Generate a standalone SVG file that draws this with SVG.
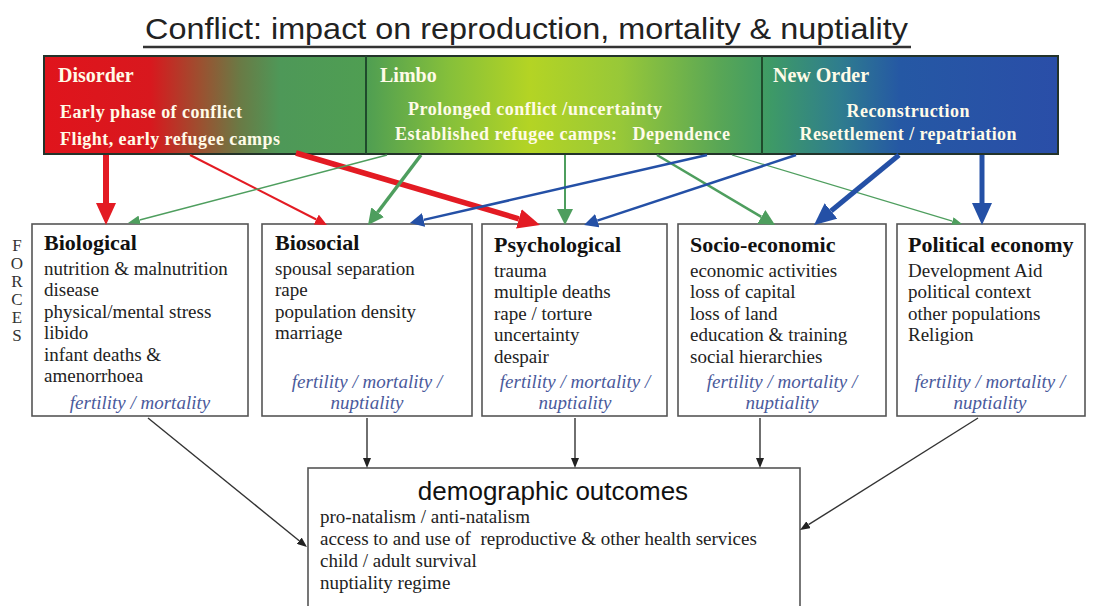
<svg xmlns="http://www.w3.org/2000/svg" width="1095" height="606" viewBox="0 0 1095 606">
<style>
.ttl{font-family:"Liberation Sans",Arial,sans-serif;font-size:30px;fill:#222}
.bh{font-family:"Liberation Serif","Times New Roman",serif;font-weight:bold;font-size:20px;fill:#fffbe8}
.bt{font-family:"Liberation Serif","Times New Roman",serif;font-weight:bold;font-size:18px;fill:#fffbe8}
.box{fill:#fff;stroke:#555;stroke-width:1.6}
.hd{font-family:"Liberation Serif","Times New Roman",serif;font-weight:bold;font-size:22px;fill:#111}
.tx{font-family:"Liberation Serif","Times New Roman",serif;font-size:19px;fill:#222}
.it{font-family:"Liberation Serif","Times New Roman",serif;font-style:italic;font-size:19px;fill:#4a5a9c;text-anchor:middle}
.fc{font-family:"Liberation Serif","Times New Roman",serif;font-size:17px;fill:#333;text-anchor:middle}
.dh{font-family:"Liberation Sans",Arial,sans-serif;font-size:26px;fill:#111;text-anchor:middle}
.red{stroke:#e31b23;fill:none}
.grn{stroke:#4e9e5e;fill:none}
.blu{stroke:#2450a6;fill:none}
.blk{stroke:#333;fill:none;stroke-width:1.4}
</style>
<defs>
<linearGradient id="bg" gradientUnits="userSpaceOnUse" x1="44" y1="0" x2="1058" y2="0">
<stop offset="0" stop-color="#e0141c"/>
<stop offset="0.105" stop-color="#d8181e"/>
<stop offset="0.154" stop-color="#9c5030"/>
<stop offset="0.193" stop-color="#6a7a45"/>
<stop offset="0.233" stop-color="#4e9858"/>
<stop offset="0.318" stop-color="#4f9e52"/>
<stop offset="0.40" stop-color="#86c03a"/>
<stop offset="0.479" stop-color="#b4d424"/>
<stop offset="0.568" stop-color="#98c838"/>
<stop offset="0.667" stop-color="#58a656"/>
<stop offset="0.716" stop-color="#3e9a66"/>
<stop offset="0.785" stop-color="#2f7d8e"/>
<stop offset="0.844" stop-color="#2558a4"/>
<stop offset="1" stop-color="#2a4ea8"/>
</linearGradient>
<marker id="rB" viewBox="0 0 10 10" refX="0" refY="5" markerUnits="userSpaceOnUse" markerWidth="22" markerHeight="20" orient="auto" preserveAspectRatio="none"><path d="M0,0 L10,5 L0,10 z" fill="#e31b23"/></marker>
<marker id="rS" viewBox="0 0 10 10" refX="0" refY="5" markerUnits="userSpaceOnUse" markerWidth="12" markerHeight="11" orient="auto" preserveAspectRatio="none"><path d="M0,0 L10,5 L0,10 z" fill="#e31b23"/></marker>
<marker id="gS" viewBox="0 0 10 10" refX="0" refY="5" markerUnits="userSpaceOnUse" markerWidth="12" markerHeight="9" orient="auto" preserveAspectRatio="none"><path d="M0,0 L10,5 L0,10 z" fill="#4e9e5e"/></marker>
<marker id="gM" viewBox="0 0 10 10" refX="0" refY="5" markerUnits="userSpaceOnUse" markerWidth="16" markerHeight="16" orient="auto" preserveAspectRatio="none"><path d="M0,0 L10,5 L0,10 z" fill="#4e9e5e"/></marker>
<marker id="gT" viewBox="0 0 10 10" refX="0" refY="5" markerUnits="userSpaceOnUse" markerWidth="10" markerHeight="8" orient="auto" preserveAspectRatio="none"><path d="M0,0 L10,5 L0,10 z" fill="#4e9e5e"/></marker>
<marker id="bM" viewBox="0 0 10 10" refX="0" refY="5" markerUnits="userSpaceOnUse" markerWidth="14" markerHeight="14" orient="auto" preserveAspectRatio="none"><path d="M0,0 L10,5 L0,10 z" fill="#2450a6"/></marker>
<marker id="bB" viewBox="0 0 10 10" refX="0" refY="5" markerUnits="userSpaceOnUse" markerWidth="22" markerHeight="20" orient="auto" preserveAspectRatio="none"><path d="M0,0 L10,5 L0,10 z" fill="#2450a6"/></marker>
<marker id="k" viewBox="0 0 10 10" refX="0" refY="5" markerUnits="userSpaceOnUse" markerWidth="10" markerHeight="8" orient="auto" preserveAspectRatio="none"><path d="M0,0 L10,5 L0,10 z" fill="#222"/></marker>
</defs>
<rect width="1095" height="606" fill="#fff"/>

<g id="title">
<text class="ttl" x="145" y="39" textLength="763" lengthAdjust="spacingAndGlyphs">Conflict: impact on reproduction, mortality &amp; nuptiality</text>
<line x1="143" y1="47" x2="911" y2="47" stroke="#333" stroke-width="2.5"/>
</g>

<g id="banner">
<rect x="44" y="56" width="1014" height="98" fill="url(#bg)" stroke="#23332a" stroke-width="2"/>
<line x1="366" y1="56" x2="366" y2="154" stroke="#1f4a2c" stroke-width="2"/>
<line x1="762" y1="56" x2="762" y2="154" stroke="#1f4a2c" stroke-width="2"/>
</g>
<g id="disorder">
<text class="bh" x="58" y="82">Disorder</text>
<text class="bt" x="60" y="118" textLength="182">Early phase of conflict</text>
<text class="bt" x="60" y="145" textLength="220">Flight, early refugee camps</text>
</g>
<g id="limbo">
<text class="bh" x="380" y="82">Limbo</text>
<text class="bt" x="408" y="115" textLength="254">Prolonged conflict /uncertainty</text>
<text class="bt" x="395" y="140" textLength="335" xml:space="preserve">Established refugee camps:   Dependence</text>
</g>
<g id="neworder">
<text class="bh" x="773" y="82">New Order</text>
<text class="bt" x="908" y="117" text-anchor="middle" textLength="123">Reconstruction</text>
<text class="bt" x="908" y="140" text-anchor="middle" textLength="217">Resettlement / repatriation</text>
</g>

<g id="forces-label">
<text class="fc" x="17" y="251">F</text>
<text class="fc" x="17" y="269">O</text>
<text class="fc" x="17" y="287">R</text>
<text class="fc" x="17" y="305">C</text>
<text class="fc" x="17" y="323">E</text>
<text class="fc" x="17" y="341">S</text>
</g>

<g id="biological">
<rect class="box" x="32" y="224" width="216" height="192"/>
<text class="hd" x="44" y="250">Biological</text>
<text class="tx" x="44" y="275">nutrition &amp; malnutrition</text>
<text class="tx" x="44" y="296">disease</text>
<text class="tx" x="44" y="318">physical/mental stress</text>
<text class="tx" x="44" y="339">libido</text>
<text class="tx" x="44" y="361">infant deaths &amp;</text>
<text class="tx" x="44" y="382">amenorrhoea</text>
<text class="it" x="140" y="409">fertility / mortality</text>
</g>
<g id="biosocial">
<rect class="box" x="262" y="224" width="210" height="192"/>
<text class="hd" x="275" y="250">Biosocial</text>
<text class="tx" x="275" y="275">spousal separation</text>
<text class="tx" x="275" y="296">rape</text>
<text class="tx" x="275" y="318">population density</text>
<text class="tx" x="275" y="339">marriage</text>
<text class="it" x="367" y="388">fertility / mortality /</text>
<text class="it" x="367" y="409">nuptiality</text>
</g>
<g id="psychological">
<rect class="box" x="482" y="224" width="185" height="192"/>
<text class="hd" x="494" y="252">Psychological</text>
<text class="tx" x="494" y="277">trauma</text>
<text class="tx" x="494" y="298">multiple deaths</text>
<text class="tx" x="494" y="320">rape / torture</text>
<text class="tx" x="494" y="341">uncertainty</text>
<text class="tx" x="494" y="363">despair</text>
<text class="it" x="575" y="388">fertility / mortality /</text>
<text class="it" x="575" y="409">nuptiality</text>
</g>
<g id="socioeconomic">
<rect class="box" x="678" y="224" width="208" height="192"/>
<text class="hd" x="690" y="252">Socio-economic</text>
<text class="tx" x="690" y="277">economic activities</text>
<text class="tx" x="690" y="298">loss of capital</text>
<text class="tx" x="690" y="320">loss of land</text>
<text class="tx" x="690" y="341">education &amp; training</text>
<text class="tx" x="690" y="363">social hierarchies</text>
<text class="it" x="782" y="388">fertility / mortality /</text>
<text class="it" x="782" y="409">nuptiality</text>
</g>
<g id="politicaleconomy">
<rect class="box" x="897" y="224" width="188" height="192"/>
<text class="hd" x="908" y="252">Political economy</text>
<text class="tx" x="908" y="277">Development Aid</text>
<text class="tx" x="908" y="298">political context</text>
<text class="tx" x="908" y="320">other populations</text>
<text class="tx" x="908" y="341">Religion</text>
<text class="it" x="990" y="388">fertility / mortality /</text>
<text class="it" x="990" y="409">nuptiality</text>
</g>

<g id="outcomes">
<rect class="box" x="308" y="468" width="492" height="160"/>
<text class="dh" x="553" y="500">demographic outcomes</text>
<text class="tx" x="320" y="523">pro-natalism / anti-natalism</text>
<text class="tx" x="320" y="545" xml:space="preserve">access to and use of  reproductive &amp; other health services</text>
<text class="tx" x="320" y="567">child / adult survival</text>
<text class="tx" x="320" y="589">nuptiality regime</text>
</g>

<g id="connectors">
<line class="red" stroke-width="6" x1="106" y1="155" x2="106" y2="203" marker-end="url(#rB)"/>
<line class="red" stroke-width="2" x1="190" y1="155" x2="316.3" y2="219.5" marker-end="url(#rS)"/>
<line class="red" stroke-width="5.5" x1="296" y1="153" x2="518.9" y2="218.8" marker-end="url(#rB)"/>
<line class="grn" stroke-width="1.5" x1="387" y1="155" x2="139.6" y2="220" marker-end="url(#gS)"/>
<line class="grn" stroke-width="3.5" x1="421" y1="155" x2="377.7" y2="212.2" marker-end="url(#gM)"/>
<line class="grn" stroke-width="2" x1="565" y1="155" x2="565" y2="209" marker-end="url(#gM)"/>
<line class="grn" stroke-width="2.5" x1="657" y1="155" x2="761.3" y2="216.9" marker-end="url(#gM)"/>
<line class="grn" stroke-width="1.2" x1="732" y1="155" x2="952.4" y2="221.1" marker-end="url(#gT)"/>
<line class="blu" stroke-width="2.5" x1="707" y1="155" x2="423.6" y2="219.9" marker-end="url(#bM)"/>
<line class="blu" stroke-width="2.5" x1="796" y1="155" x2="597.3" y2="220.6" marker-end="url(#bM)"/>
<line class="blu" stroke-width="5" x1="899" y1="155" x2="831" y2="211" marker-end="url(#bB)"/>
<line class="blu" stroke-width="5" x1="982" y1="155" x2="982" y2="203" marker-end="url(#bB)"/>
<line class="blk" x1="148" y1="418" x2="299.2" y2="540.7" marker-end="url(#k)"/>
<line class="blk" x1="367" y1="418" x2="367" y2="458" marker-end="url(#k)"/>
<line class="blk" x1="575" y1="418" x2="575" y2="458" marker-end="url(#k)"/>
<line class="blk" x1="760" y1="418" x2="760" y2="458" marker-end="url(#k)"/>
<line class="blk" x1="978" y1="418" x2="808.5" y2="524.7" marker-end="url(#k)"/>
</g>
</svg>
